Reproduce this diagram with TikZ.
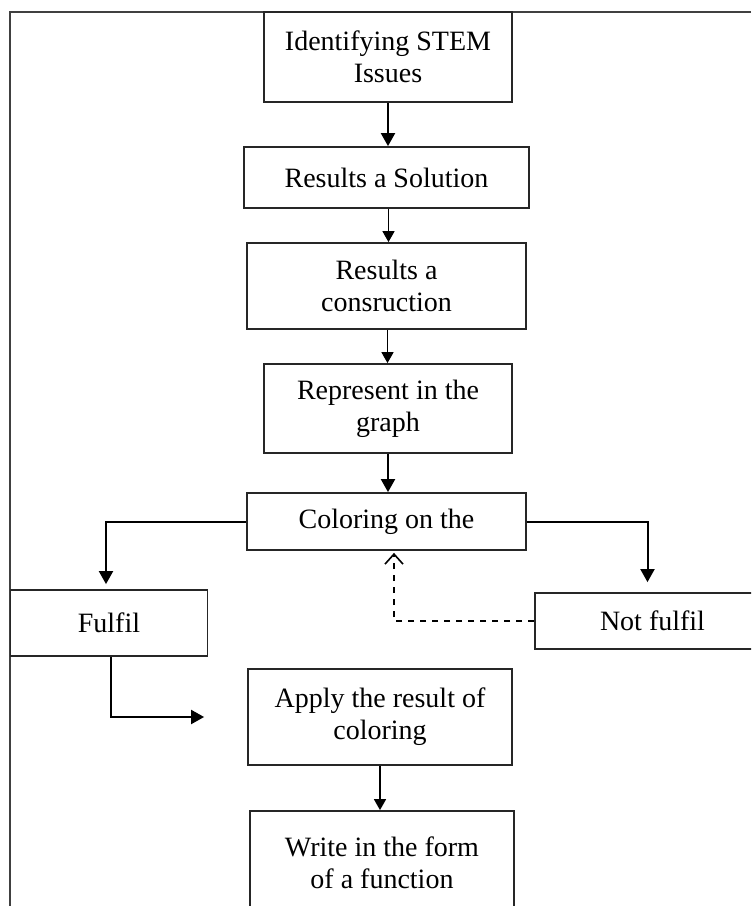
\documentclass[tikz,border=0pt]{standalone}
\usepackage{fontspec}
\setmainfont{Liberation Serif}
\usetikzlibrary{arrows.meta,positioning,calc}

\begin{document}
\begin{tikzpicture}[
    x=0.5pt, y=-0.5pt,
    box/.style={rectangle, draw=black!85, line width=0.9pt, inner sep=0pt, align=center,
                font=\fontsize{14}{16}\selectfont},
    arr/.style={-{Triangle[length=5.5pt, width=6pt]}, line width=0.8pt},
    bigarr/.style={-{Triangle[length=6.5pt, width=7pt]}, line width=1pt},
    back/.style={-{Straight Barb[length=5pt, width=9pt]}, dashed, line width=0.8pt},
]
    \useasboundingbox (0,0) rectangle (751,906);
    \clip (0,0) rectangle (751,906);
    % outer frame (top and left edges only)
    \draw[line width=0.7pt, black!75] (751,12) -- (10,12) -- (10,906);

    \node[box, minimum width=124pt,   minimum height=45pt]   (ident)     at (388,57)      {Identifying STEM\\Issues};
    \node[box, minimum width=142.5pt, minimum height=30.5pt] (solution)  at (386.5,177.5) {Results a Solution};
    \node[box, minimum width=139.5pt, minimum height=43pt]   (construct) at (386.5,286)   {Results a\\consruction};
    \node[box, minimum width=124pt,   minimum height=44.5pt] (graph)     at (388,408.5)   {Represent in the\\graph};
    \node[box, minimum width=139.5pt, minimum height=28.5pt] (coloring)  at (386.5,521.5) {Coloring on the};
    \node[box, minimum width=98.5pt,  minimum height=33pt]   (fulfil)    at (109,623)     {Fulfil};
    \node[box, minimum width=117.5pt, minimum height=28pt]   (notfulfil) at (652.5,621)   {Not fulfil};
    \node[box, minimum width=132pt,   minimum height=48pt]   (apply)     at (380,717)     {Apply the result of\\coloring};
    \node[box, minimum width=132pt,   minimum height=52pt]   (write)     at (382,863)     {Write in the form\\of a function};

    % main chain
    \draw[bigarr] (ident.south) -- (ident.south |- solution.north);
    \draw[arr] ([xshift=1pt]solution.south) -- ([xshift=1pt]solution.south |- construct.north);
    \draw[arr] ([xshift=0.5pt]construct.south) -- ([xshift=0.5pt]construct.south |- graph.north);
    \draw[bigarr] (graph.south) -- (graph.south |- coloring.north);
    % branches
    \draw[bigarr, shorten >=2.5pt] (coloring.west) -| ([xshift=-1.5pt]fulfil.north);
    \draw[bigarr, shorten >=5pt] (coloring.east) -| ([xshift=-2.5pt]notfulfil.north);
    \draw[back, shorten >=1pt] (notfulfil.west) -| ([xshift=3.75pt]coloring.south);
    \draw[bigarr] ([xshift=1pt]fulfil.south) |- ([xshift=-21.5pt]apply.west);
    \draw[arr] (apply.south) -- (apply.south |- write.north);
\end{tikzpicture}
\end{document}
